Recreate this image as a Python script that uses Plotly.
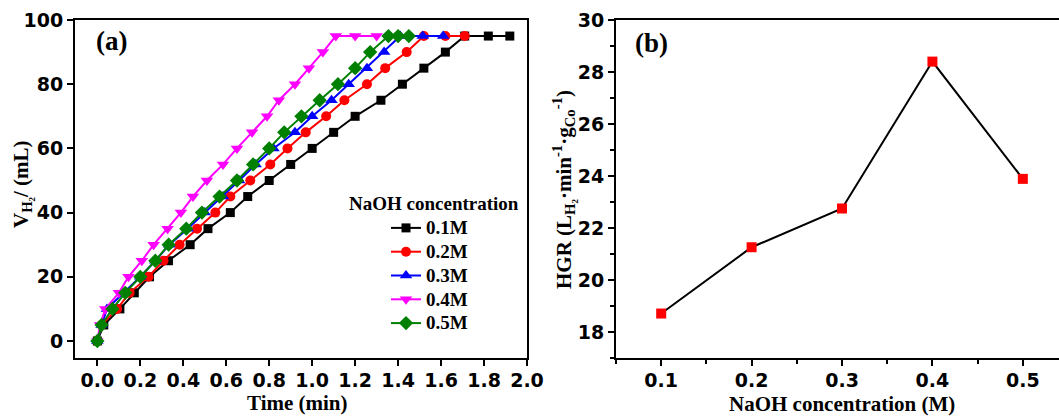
import plotly.graph_objects as go

# ---------------- data ----------------
vol = [0, 5, 10, 15, 20, 25, 30, 35, 40, 45, 50, 55, 60, 65, 70, 75, 80, 85, 90, 95, 95, 95]

t_01 = [0, 0.03, 0.105, 0.172, 0.243, 0.331, 0.432, 0.515, 0.619, 0.70, 0.80, 0.90, 1.00,
        1.10, 1.20, 1.32, 1.42, 1.52, 1.62, 1.71, 1.82, 1.92]
t_02 = [0, 0.02, 0.092, 0.15, 0.238, 0.308, 0.383, 0.464, 0.549, 0.619, 0.712, 0.805, 0.885,
        0.97, 1.065, 1.15, 1.255, 1.34, 1.44, 1.52, 1.62, 1.71]
t_03 = [0, 0.02, 0.045, 0.125, 0.20, 0.27, 0.335, 0.42, 0.50, 0.585, 0.66, 0.737, 0.82,
        0.92, 1.00, 1.09, 1.17, 1.255, 1.335, 1.41, 1.515, 1.61]
t_04 = [0, 0.013, 0.037, 0.10, 0.145, 0.207, 0.262, 0.327, 0.389, 0.445, 0.51, 0.585, 0.65,
        0.72, 0.79, 0.845, 0.92, 0.985, 1.05, 1.11, 1.20, 1.30]
t_05 = [0, 0.02, 0.07, 0.13, 0.20, 0.27, 0.332, 0.414, 0.487, 0.569, 0.65, 0.725, 0.80,
        0.87, 0.95, 1.035, 1.12, 1.20, 1.27, 1.355, 1.40, 1.45]

series_names = ["0.1M", "0.2M", "0.3M", "0.4M", "0.5M"]
series_times = [t_01, t_02, t_03, t_04, t_05]
series_colors = ["#000000", "#FF0000", "#0000FF", "#FF00FF", "#008000"]
series_symbols = ["square", "circle", "triangle-up", "triangle-down", "diamond"]
series_sizes = [9, 10, 11, 11, 11]

naoh_conc = [0.1, 0.2, 0.3, 0.4, 0.5]
hgr = [18.71, 21.26, 22.75, 28.40, 23.89]

x_ticks_a = [0, 0.2, 0.4, 0.6, 0.8, 1.0, 1.2, 1.4, 1.6, 1.8, 2.0]
x_ticktext_a = ["0.0", "0.2", "0.4", "0.6", "0.8", "1.0", "1.2", "1.4", "1.6", "1.8", "2.0"]
y_ticks_a = [0, 20, 40, 60, 80, 100]
y_ticks_b = [18, 20, 22, 24, 26, 28, 30]

# ---------------- figure ----------------
fig = go.Figure()

for name, t, c, s, sz in zip(series_names, series_times, series_colors, series_symbols, series_sizes):
    fig.add_trace(go.Scatter(
        x=t, y=vol, name="<span style='font-size:19px'>" + name + "</span>",
        mode="lines+markers",
        line=dict(color=c, width=2),
        marker=dict(symbol=s, size=sz, color=c),
        xaxis="x", yaxis="y", showlegend=True))

fig.add_trace(go.Scatter(
    x=naoh_conc, y=hgr, mode="lines+markers", showlegend=False,
    line=dict(color="#000000", width=2),
    marker=dict(symbol="square", size=10, color="#FF0000"),
    xaxis="x2", yaxis="y2"))

W, H = 1059, 416
ML, MR, MT, MB = 75, 0, 20, 58
PW, PH = W - ML - MR, H - MT - MB

def px(x):
    return (x - ML) / PW

def py(y):
    return 1 - (y - MT) / PH

tickfont = dict(family="DejaVu Sans", size=19, color="black", weight="bold")
serif = "Liberation Serif"

axis_common = dict(showline=True, linecolor="black", linewidth=2, ticks="outside",
                   ticklen=6, tickwidth=2, tickcolor="black", showgrid=False,
                   zeroline=False, tickfont=tickfont, automargin=False)

fig.update_layout(
    width=W, height=H, autosize=False,
    margin=dict(l=ML, r=MR, t=MT, b=MB, autoexpand=False),
    paper_bgcolor="white", plot_bgcolor="white",
    xaxis=dict(domain=[0, px(527)], range=[-0.104, 2.0], tickmode="array",
               tickvals=x_ticks_a, ticktext=x_ticktext_a, ticklabelstandoff=-2,
               mirror=True, anchor="y", **axis_common),
    yaxis=dict(domain=[0, 1], range=[-5.3, 100], tickmode="array",
               tickvals=y_ticks_a, mirror=True, anchor="x", **axis_common),
    xaxis2=dict(domain=[px(616), 1], range=[0.05, 0.54], tickmode="array",
                tickvals=naoh_conc, mirror=True, anchor="y2", ticklabelstandoff=-2,
                minor=dict(tickvals=[0.05, 0.15, 0.25, 0.35, 0.45], ticks="outside",
                           ticklen=4, tickwidth=2, tickcolor="black"),
                **axis_common),
    yaxis2=dict(domain=[0, 1], range=[17, 30], tickmode="array",
                tickvals=y_ticks_b, mirror=False, anchor="x2",
                minor=dict(tickvals=[17, 19, 21, 23, 25, 27, 29], ticks="outside",
                           ticklen=4, tickwidth=2, tickcolor="black"),
                **axis_common),
    legend=dict(x=px(386), y=py(211), xanchor="left", yanchor="top",
                bgcolor="rgba(0,0,0,0)", borderwidth=0,
                font=dict(family=serif, size=16, color="black", weight="bold"),
                tracegroupgap=0, itemwidth=30),
    showlegend=True,
)

ann = [
    dict(text="(a)", x=px(111), y=py(41), font=dict(family=serif, size=27, weight="bold")),
    dict(text="(b)", x=px(651), y=py(43), font=dict(family=serif, size=27, weight="bold")),
    dict(text="Time (min)", x=px(297), y=py(403), font=dict(family=serif, size=21, weight="bold")),
    dict(text="NaOH concentration (M)", x=px(842), y=py(404), font=dict(family=serif, size=21, weight="bold")),
    dict(text="NaOH concentration", x=px(434), y=py(203), font=dict(family=serif, size=19, weight="bold")),
    dict(text="V<sub>H₂</sub>/ (mL)", x=px(22), y=py(184), textangle=-90,
         font=dict(family=serif, size=21, weight="bold")),
    dict(text="HGR (L<sub>H₂</sub>·min<sup>-1</sup>·g<sub>Co</sub><sup>-1</sup>)", x=px(563), y=py(190),
         textangle=-90, font=dict(family=serif, size=21, weight="bold")),
]
for a in ann:
    a.update(xref="paper", yref="paper", showarrow=False, xanchor="center", yanchor="middle")
    a["font"]["color"] = "black"
fig.update_layout(annotations=ann)

post = ("document.documentElement.style.overflow='hidden';"
        "document.body.style.margin='0';document.body.style.overflow='hidden';")

fig.write_html("out.html", config={"responsive": False, "displayModeBar": False},
               post_script=post)
